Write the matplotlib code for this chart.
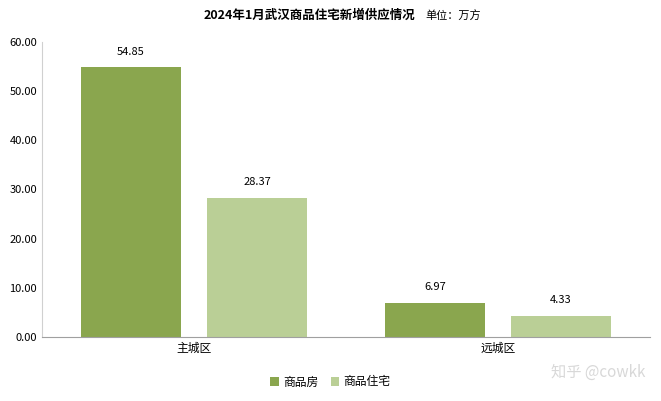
import matplotlib
matplotlib.use("Agg")
import matplotlib.pyplot as plt

plt.rcParams['font.family'] = ['Noto Sans CJK SC', 'DejaVu Sans']

categories = ["主城区", "远城区"]
series_names = ["商品房", "商品住宅"]
v_house = [54.85, 6.97]
v_resi = [28.37, 4.33]
colors = ["#8aa64e", "#bacf96"]

fig = plt.figure(figsize=(6.61, 4.01), dpi=100)
ax = fig.add_axes([42/661, 1-337/401, 608/661, 295/401])
x = [0, 1]
w = 0.329
off = 0.207
b1 = ax.bar([i - off for i in x], v_house, w, color=colors[0], label=series_names[0])
b2 = ax.bar([i + off for i in x], v_resi, w, color=colors[1], label=series_names[1])
for bars in (b1, b2):
    for r in bars:
        ax.text(r.get_x() + r.get_width()/2, r.get_height() + 2.2, f"{r.get_height():.2f}",
                ha='center', va='bottom', fontsize=8)
ax.set_xlim(-0.5, 1.5)
ax.set_ylim(0, 60)
ax.set_yticks(range(0, 61, 10))
ax.set_yticklabels([f"{v:.2f}" for v in range(0, 61, 10)], fontsize=8)
ax.set_xticks(x)
ax.set_xticklabels(categories, fontsize=8.5)
ax.tick_params(length=0)
for s in ['top', 'right']:
    ax.spines[s].set_visible(False)
ax.spines['left'].set_color('#d0d0d0')
ax.spines['bottom'].set_color('#a0a0a0')

fig.text(415/661, 1-15/401, "2024年1月武汉商品住宅新增供应情况", ha='right', va='center',
         fontsize=9, fontweight='bold')
fig.text(425/661, 1-15/401, "单位：万方", ha='left', va='center', fontsize=8)
fig.legend(loc='center', bbox_to_anchor=(0.5, 1-382/401), ncol=2, frameon=False,
           fontsize=8.5, handlelength=0.7, handleheight=0.7, columnspacing=1.0, handletextpad=0.4)
fig.text(645/661, 1-372/401, "知乎 @cowkk", ha='right', va='center', fontsize=11, color='#d8d8d8')
fig.savefig("out.png", dpi=100)
